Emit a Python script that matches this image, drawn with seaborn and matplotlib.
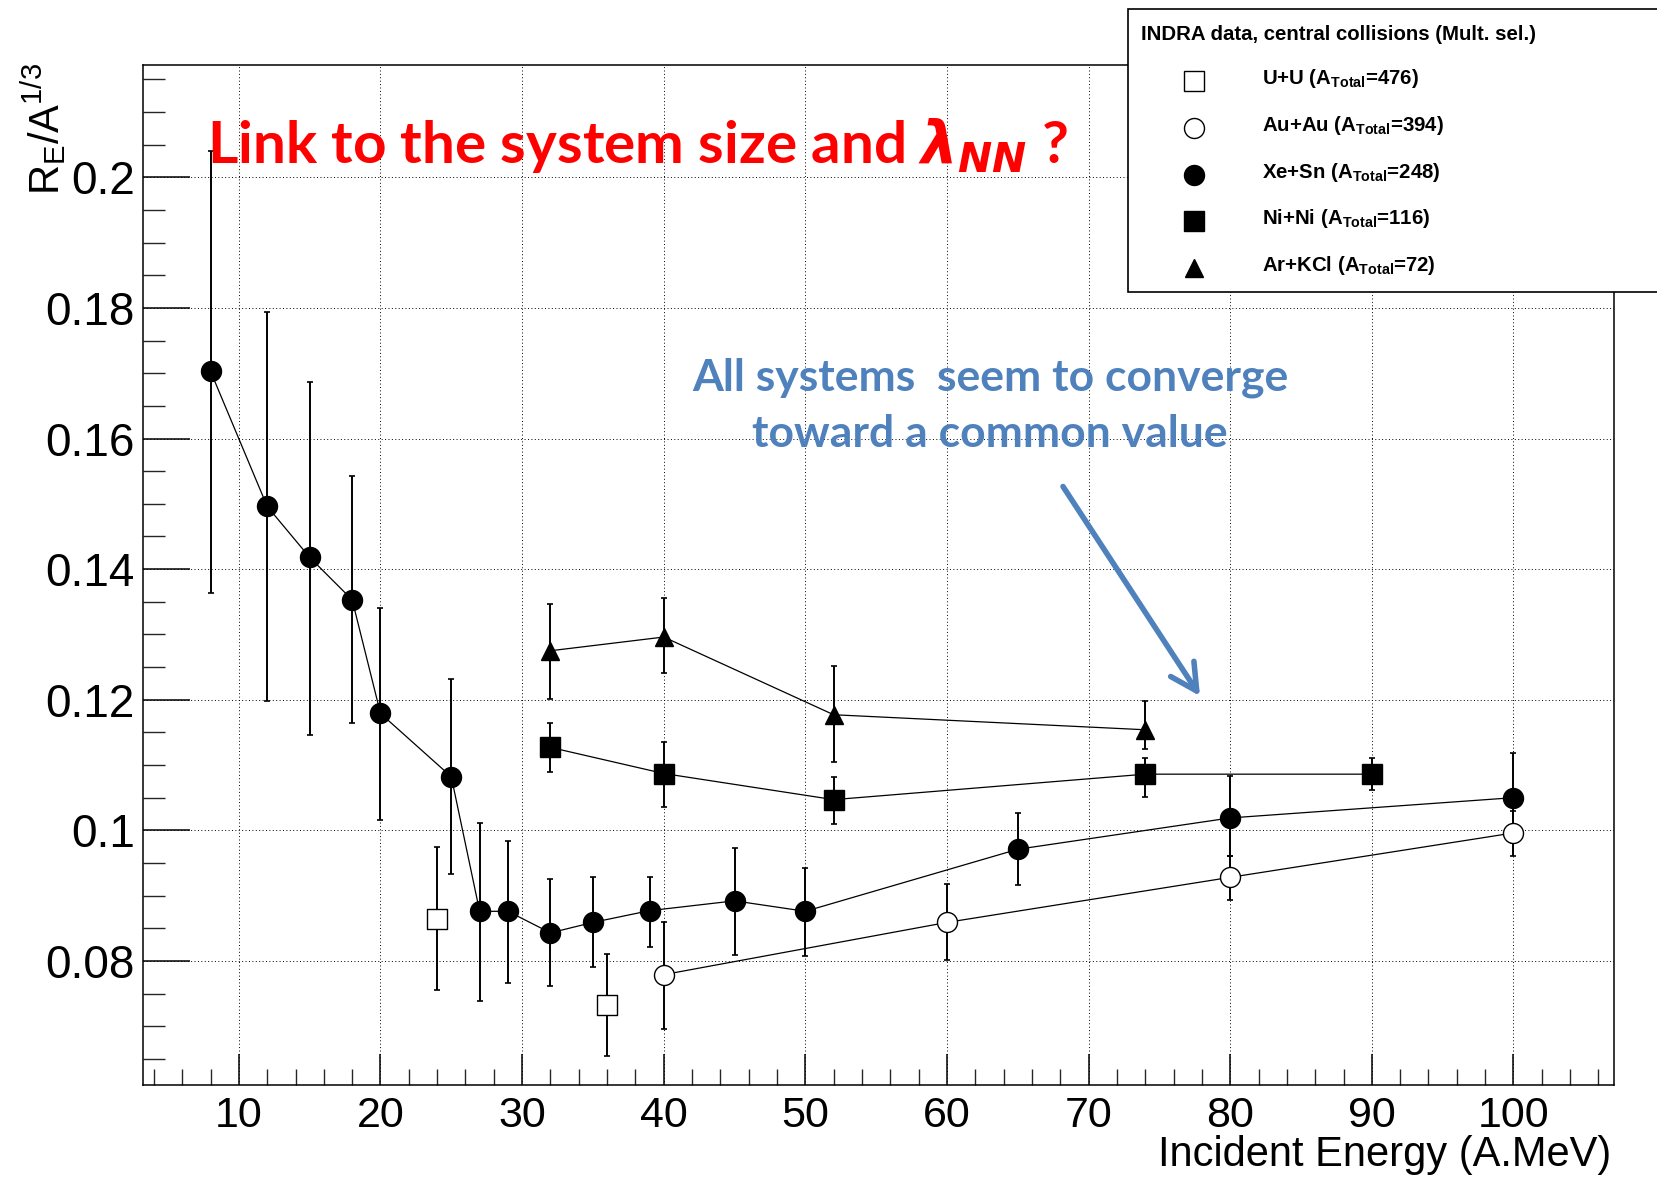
import numpy as np
import pandas as pd
import matplotlib
matplotlib.use("Agg")
import matplotlib.pyplot as plt
from matplotlib.lines import Line2D
from matplotlib.patches import Rectangle
from matplotlib.ticker import MultipleLocator, FuncFormatter
import seaborn as sns

# ---- INDRA isotropy ratio R_E / A^(1/3) versus incident energy ----
uu_energy = [24, 36]
uu_ratio = [0.0864, 0.0733]
uu_low = [0.0755, 0.0655]
uu_high = [0.0974, 0.0811]

auau_energy = [40, 60, 80, 100]
auau_ratio = [0.0779, 0.0859, 0.0928, 0.0996]
auau_low = [0.0696, 0.0802, 0.0894, 0.0960]
auau_high = [0.0859, 0.0918, 0.0961, 0.1029]

xesn_energy = [8, 12, 15, 18, 20, 25, 27, 29, 32, 35, 39, 45, 50, 65, 80, 100]
xesn_ratio = [0.1703, 0.1496, 0.1418, 0.1353, 0.1179, 0.1082, 0.0876, 0.0876,
              0.0843, 0.0859, 0.0877, 0.0892, 0.0876, 0.0971, 0.1019, 0.1050]
xesn_low = [0.1364, 0.1198, 0.1146, 0.1165, 0.1016, 0.0933, 0.0739, 0.0766,
            0.0762, 0.0791, 0.0821, 0.0809, 0.0808, 0.0917, 0.0960, 0.0981]
xesn_high = [0.2041, 0.1793, 0.1687, 0.1543, 0.1341, 0.1231, 0.1011, 0.0984,
             0.0925, 0.0928, 0.0929, 0.0973, 0.0943, 0.1026, 0.1083, 0.1118]

nini_energy = [32, 40, 52, 74, 90]
nini_ratio = [0.1127, 0.1087, 0.1047, 0.1086, 0.1086]
nini_low = [0.1090, 0.1036, 0.1009, 0.1051, 0.1062]
nini_high = [0.1164, 0.1135, 0.1081, 0.1111, 0.1111]

arkcl_energy = [32, 40, 52, 74]
arkcl_ratio = [0.1275, 0.1296, 0.1177, 0.1154]
arkcl_low = [0.1201, 0.1241, 0.1105, 0.1124]
arkcl_high = [0.1346, 0.1356, 0.1251, 0.1198]

system_labels = [
    r"U+U (A$_{\mathregular{Total}}$=476)",
    r"Au+Au (A$_{\mathregular{Total}}$=394)",
    r"Xe+Sn (A$_{\mathregular{Total}}$=248)",
    r"Ni+Ni (A$_{\mathregular{Total}}$=116)",
    r"Ar+KCl (A$_{\mathregular{Total}}$=72)",
]
legend_title = "INDRA data, central collisions (Mult. sel.)"
x_ticks = [10, 20, 30, 40, 50, 60, 70, 80, 90, 100]
y_ticks = [0.08, 0.10, 0.12, 0.14, 0.16, 0.18, 0.20]

# ---- style ----
sns.set_theme(style="white")
plt.rcParams["font.family"] = ["Liberation Sans", "DejaVu Sans"]
plt.rcParams["mathtext.fontset"] = "custom"
plt.rcParams["mathtext.it"] = "DejaVu Sans:italic:bold"
plt.rcParams["mathtext.rm"] = "DejaVu Sans:bold"
plt.rcParams["mathtext.bf"] = "DejaVu Sans:bold"

W, H, DPI = 1658, 1177, 100
fig = plt.figure(figsize=(W / DPI, H / DPI), dpi=DPI, facecolor="white")


def fx(px):
    return px / W


def fy(py):
    return 1 - py / H


ax_l, ax_r, ax_t, ax_b = 143, 1614, 65, 1085
ax = fig.add_axes([fx(ax_l), fy(ax_b), fx(ax_r) - fx(ax_l), fy(ax_t) - fy(ax_b)])
ax.set_facecolor("white")

MS = 14.4
series = [
    (uu_energy, uu_ratio, uu_low, uu_high, "s", "white", False, MS),
    (auau_energy, auau_ratio, auau_low, auau_high, "o", "white", True, MS),
    (xesn_energy, xesn_ratio, xesn_low, xesn_high, "o", "black", True, MS),
    (nini_energy, nini_ratio, nini_low, nini_high, "s", "black", True, MS),
    (arkcl_energy, arkcl_ratio, arkcl_low, arkcl_high, "^", "black", True, 13.5),
]

for (energy, ratio, low, high, mk, face, joined, ms), label in zip(series, system_labels):
    r = np.asarray(ratio)
    err = [r - np.asarray(low), np.asarray(high) - r]
    ax.errorbar(energy, r, yerr=err, fmt="none", ecolor="black",
                elinewidth=1.4, capsize=2.2, capthick=1.2, zorder=2)
    df = pd.DataFrame({"energy": energy, "ratio": ratio})
    if joined:
        sns.lineplot(data=df, x="energy", y="ratio", ax=ax, color="black",
                     linewidth=0.9, marker=mk, markersize=ms,
                     markerfacecolor=face, markeredgecolor="black",
                     markeredgewidth=1.0, sort=False, estimator=None,
                     errorbar=None, zorder=3)
    else:
        sns.scatterplot(data=df, x="energy", y="ratio", ax=ax, marker=mk,
                        s=ms ** 2, facecolor=face, edgecolor="black",
                        linewidth=1.0, zorder=3)

# ---- axes ----
ax.set_xlim(3.23, 107.1)
ax.set_ylim(0.0610, 0.2172)
ax.xaxis.set_minor_locator(MultipleLocator(2))
ax.yaxis.set_minor_locator(MultipleLocator(0.005))
ax.set_xticks(x_ticks)
ax.set_yticks(y_ticks)
ax.yaxis.set_major_formatter(FuncFormatter(lambda v, p: f"{v:g}"))

ax.tick_params(axis="x", which="major", direction="in", length=22.3, width=1.1,
               labelsize=31, pad=8, bottom=True, top=False, colors="black")
ax.tick_params(axis="x", which="minor", direction="in", length=11.5, width=1.0,
               bottom=True, top=False)
ax.tick_params(axis="y", which="major", direction="in", length=33.6, width=1.1,
               labelsize=33, pad=6, left=True, right=False, colors="black")
ax.tick_params(axis="y", which="minor", direction="in", length=15.8, width=1.0,
               left=True, right=False)

for s in ax.spines.values():
    s.set_visible(True)
    s.set_color("black")
    s.set_linewidth(1.1)

ax.grid(True, which="major", color="black", linestyle=(0, (1, 2.5)), linewidth=0.7)
ax.set_axisbelow(True)

ax.set_xlabel("Incident Energy (A.MeV)", fontsize=30, loc="right", color="black")
ax.xaxis.set_label_coords((1611.5 - ax_l) / (ax_r - ax_l), (ax_b - 1166) / (ax_b - ax_t))
ax.xaxis.label.set_va("baseline")
ax.set_ylabel(r"$\mathregular{R_{E}/A^{1/3}}$", fontsize=30, loc="top", color="black")
ax.yaxis.set_label_coords((44 - ax_l) / (ax_r - ax_l), (ax_b - 63) / (ax_b - ax_t))
ax.yaxis.label.set_va("center")

# ---- legend box (extends past the right edge) ----
fig.add_artist(Rectangle((fx(1127.5), fy(292)), 0.5, fy(9.3) - fy(292),
                         transform=fig.transFigure, facecolor="white",
                         edgecolor="black", linewidth=1.2, zorder=5, clip_on=False))
fig.text(fx(1140.6), fy(39.5), legend_title, fontsize=14.7, fontweight="bold",
         va="baseline", ha="left", color="black", zorder=6)
row_y = [80.6, 128.4, 175.0, 220.7, 268.4]
for (energy, ratio, low, high, mk, face, joined, ms), label, yy in zip(series, system_labels, row_y):
    fig.add_artist(Line2D([fx(1194.5)], [fy(yy)], marker=mk, markersize=ms,
                          markerfacecolor=face, markeredgecolor="black",
                          markeredgewidth=1.0, linestyle="none",
                          transform=fig.transFigure, zorder=6))
    fig.text(fx(1262), fy(yy + 3), label, fontsize=14.7, fontweight="bold",
             va="baseline", ha="left", color="black", zorder=6)

# ---- annotations ----
fig.text(fx(207), fy(162.7), r"Link to the system size and $\lambda_{NN}$ ?",
         color="red", fontsize=42, fontweight="bold", family="Lato",
         va="baseline", ha="left", zorder=4)

blue = "#4F81BD"
fig.text(fx(990), fy(390), "All systems  seem to converge", color=blue,
         fontsize=32, fontweight="bold", family="Lato", ha="center", va="baseline", zorder=4)
fig.text(fx(990), fy(447.3), "toward a common value", color=blue,
         fontsize=32, fontweight="bold", family="Lato", ha="center", va="baseline", zorder=4)
ax.annotate("", xy=(fx(1200), fy(696)), xycoords="figure fraction",
            xytext=(fx(1063), fy(486.5)), textcoords="figure fraction",
            arrowprops=dict(arrowstyle="->,head_length=0.95,head_width=0.5",
                            color=blue, lw=4, mutation_scale=20,
                            shrinkA=0, shrinkB=0), zorder=4)

fig.savefig("out.png", dpi=DPI, facecolor="white")
